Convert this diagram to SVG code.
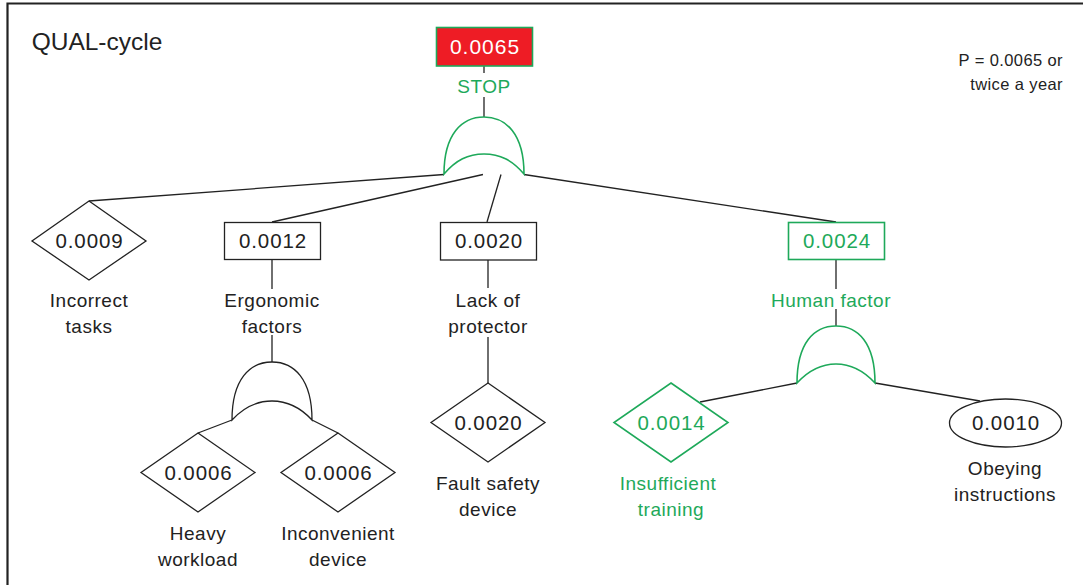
<svg xmlns="http://www.w3.org/2000/svg" width="1083" height="585" viewBox="0 0 1083 585">
  <style>
    text { font-family: "Liberation Sans", Arial, sans-serif; text-anchor: middle; }
    .val { font-size: 20.5px; fill: #222; letter-spacing: 0.9px; }
    .lbl { font-size: 19px; fill: #222; letter-spacing: 0.5px; }
    .green { fill: #1ea95a; }
    .shape { fill: #fff; stroke: #222; stroke-width: 1.3; }
    .gshape { fill: #fff; stroke: #1ea95a; stroke-width: 1.6; }
    .wire { stroke: #222; stroke-width: 1.3; fill: none; }
  </style>

  <rect x="0" y="0" width="1083" height="585" fill="#fff"/>
  <!-- frame -->
  <path d="M7.5,585 V3.5 H1083" fill="none" stroke="#222" stroke-width="2.2"/>

  <text x="97" y="50" style="font-size:24.5px;fill:#222">QUAL-cycle</text>
  <text x="1063" y="66" style="font-size:16.5px;fill:#222;text-anchor:end;letter-spacing:0.4px">P = 0.0065 or</text>
  <text x="1063" y="90" style="font-size:16.5px;fill:#222;text-anchor:end;letter-spacing:0.4px">twice a year</text>

  <!-- connectors -->
  <g id="connectors">
    <line class="wire" x1="484" y1="66" x2="484" y2="73"/>
    <line class="wire" x1="484" y1="97" x2="484" y2="117"/>
    <line class="wire" x1="444" y1="174.5" x2="89" y2="201"/>
    <line class="wire" x1="483" y1="174.5" x2="272" y2="222"/>
    <line class="wire" x1="501" y1="174.5" x2="487" y2="222"/>
    <line class="wire" x1="524" y1="174.5" x2="836" y2="222"/>
    <line class="wire" x1="272" y1="259" x2="272" y2="289"/>
    <line class="wire" x1="272" y1="335" x2="272" y2="362"/>
    <line class="wire" x1="232" y1="420" x2="198" y2="433"/>
    <line class="wire" x1="312" y1="420" x2="338" y2="433"/>
    <line class="wire" x1="488" y1="260" x2="488" y2="288"/>
    <line class="wire" x1="488" y1="337" x2="488" y2="383"/>
    <line class="wire" x1="836" y1="259" x2="836" y2="289"/>
    <line class="wire" x1="836" y1="309" x2="836" y2="326"/>
    <line class="wire" x1="797" y1="383" x2="700" y2="402"/>
    <line class="wire" x1="875" y1="383" x2="980" y2="401"/>
  </g>

  <!-- top event -->
  <g id="top-event">
    <rect x="436.5" y="27.5" width="96" height="38.5" fill="#ee1c25" stroke="#1ea95a" stroke-width="1.6"/>
    <text x="485" y="54" style="font-size:21px;fill:#fff;letter-spacing:1px">0.0065</text>
    <text x="484" y="93" class="lbl green" style="font-size:19px">STOP</text>
  </g>

  <g id="or-gate-top">
    <path class="gshape" d="M444,174 C444,134 462,117 484,117 C506,117 524,134 524,174 C512,160 500,154 484,154 C468,154 456,160 444,174 Z"/>
  </g>

  <g id="incorrect-tasks">
    <polygon class="shape" points="89,201 146,241 89,280 32,241"/>
    <text x="89.5" y="248" class="val">0.0009</text>
    <text x="89" y="307" class="lbl">Incorrect</text>
    <text x="89" y="333" class="lbl">tasks</text>
  </g>

  <g id="ergonomic-factors">
    <rect class="shape" x="224.5" y="222.5" width="96" height="37"/>
    <text x="273" y="248" class="val">0.0012</text>
    <text x="272" y="307" class="lbl">Ergonomic</text>
    <text x="272" y="333" class="lbl">factors</text>
  </g>

  <g id="or-gate-ergonomic">
    <path class="shape" d="M232,420 C232,379 250,362 272,362 C294,362 312,379 312,420 C300,407 288,401 272,401 C256,401 244,407 232,420 Z"/>
  </g>

  <g id="heavy-workload">
    <polygon class="shape" points="198,433 255,472.5 198,512 141,472.5"/>
    <text x="198.5" y="479.5" class="val">0.0006</text>
    <text x="198" y="540" class="lbl">Heavy</text>
    <text x="198" y="566" class="lbl">workload</text>
  </g>

  <g id="inconvenient-device">
    <polygon class="shape" points="338,433 395,472.5 338,512 281,472.5"/>
    <text x="338.5" y="479.5" class="val">0.0006</text>
    <text x="338" y="540" class="lbl">Inconvenient</text>
    <text x="338" y="566" class="lbl">device</text>
  </g>

  <g id="lack-of-protector">
    <rect class="shape" x="440.5" y="222.5" width="96" height="37.5"/>
    <text x="489" y="248" class="val">0.0020</text>
    <text x="488" y="307" class="lbl">Lack of</text>
    <text x="488" y="333" class="lbl">protector</text>
  </g>

  <g id="fault-safety-device">
    <polygon class="shape" points="488,383 545,422.5 488,462 431,422.5"/>
    <text x="488.5" y="429.5" class="val">0.0020</text>
    <text x="488" y="490" class="lbl">Fault safety</text>
    <text x="488" y="516" class="lbl">device</text>
  </g>

  <g id="human-factor">
    <rect class="gshape" x="788.5" y="222.5" width="96" height="37"/>
    <text x="837" y="248" class="val green">0.0024</text>
    <text x="831" y="307" class="lbl green">Human factor</text>
  </g>

  <g id="or-gate-human">
    <path class="gshape" d="M797,383 C797,343 814,326 836,326 C858,326 875,343 875,383 C863,370 851,364 836,364 C821,364 809,370 797,383 Z"/>
  </g>

  <g id="insufficient-training">
    <polygon class="gshape" points="671,383 728,422.5 671,462 614,422.5"/>
    <text x="671.5" y="429.5" class="val green">0.0014</text>
    <text x="668" y="490" class="lbl green">Insufficient</text>
    <text x="671" y="516" class="lbl green">training</text>
  </g>

  <g id="obeying-instructions">
    <ellipse class="shape" cx="1005.5" cy="423" rx="56" ry="24"/>
    <text x="1006" y="430" class="val">0.0010</text>
    <text x="1005" y="475" class="lbl">Obeying</text>
    <text x="1005" y="501" class="lbl">instructions</text>
  </g>
</svg>
